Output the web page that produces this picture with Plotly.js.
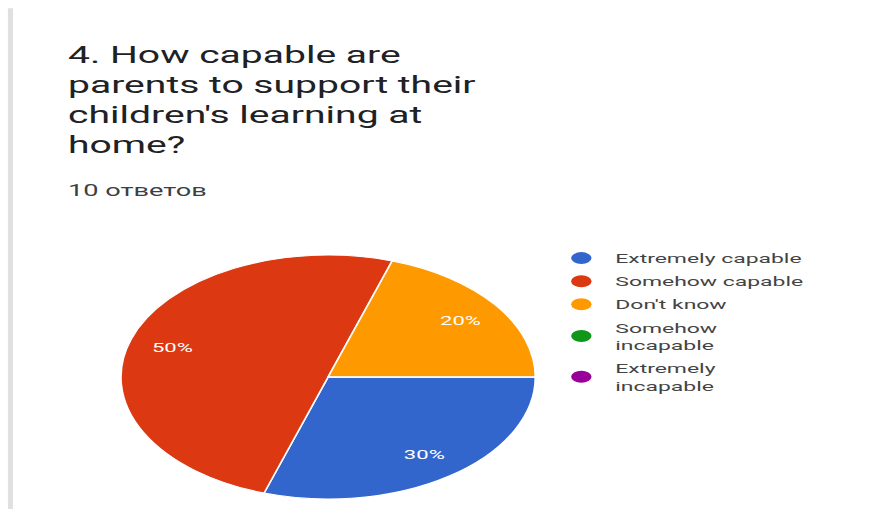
<!DOCTYPE html>
<html>
<head>
<meta charset="utf-8">
<script src="https://cdn.plot.ly/plotly-3.0.1.min.js"></script>
<style>
html, body { margin: 0; padding: 0; background: #ffffff; overflow: hidden; }
#chart { width: 514px; height: 509px; transform: scaleX(1.6984); transform-origin: 0 0; }
</style>
</head>
<body>
<div id="chart"></div>
<script>
// ---- data ----
const titleText = "4. How capable are<br>parents to support their<br>children's learning at<br>home?";
const subtitleText = "10 ответов";
const labels = ["Extremely capable", "Somehow capable", "Don't know", "Somehow incapable", "Extremely incapable"];
const legendLabels = ["Extremely capable", "Somehow capable", "Don't know", "Somehow<br>incapable", "Extremely<br>incapable"];
const values = [3, 5, 2, 0, 0];
const colors = ["#3366cc", "#dc3912", "#ff9900", "#109618", "#990099"];

const FONT = "Roboto, 'Noto Sans', Arial, sans-serif";
const pieDomain = { x: [0.1383, 0.6134], y: [0.0196, 0.499] };

// filled slices (no text)
const pie = {
  type: "pie",
  labels: labels,
  values: values,
  sort: false,
  direction: "clockwise",
  rotation: 90,
  marker: { colors: colors, line: { color: "#ffffff", width: 1 } },
  textinfo: "none",
  showlegend: false,
  domain: pieDomain,
  hoverinfo: "label+percent"
};

// same data, transparent ring carrying the percentage labels further out
const pieLabels = {
  type: "pie",
  labels: labels,
  values: values,
  sort: false,
  direction: "clockwise",
  rotation: 90,
  hole: 0.58,
  marker: { colors: colors.map(() => "rgba(0,0,0,0)"), line: { width: 0 } },
  textinfo: "percent",
  textposition: "inside",
  insidetextorientation: "horizontal",
  insidetextfont: { family: FONT, size: 13, color: "#ffffff" },
  showlegend: false,
  domain: pieDomain,
  hoverinfo: "skip"
};

const legendTraces = legendLabels.map((name, i) => ({
  type: "scatter",
  mode: "markers",
  x: [null],
  y: [null],
  name: name,
  legendgroup: "g" + i,
  marker: { color: colors[i], size: 12, symbol: "circle" },
  showlegend: true,
  hoverinfo: "skip"
}));

const layout = {
  width: 514,
  height: 509,
  margin: { l: 0, r: 0, t: 0, b: 0 },
  paper_bgcolor: "#ffffff",
  plot_bgcolor: "#ffffff",
  xaxis: { visible: false },
  yaxis: { visible: false },
  title: {
    text: titleText,
    x: 0.078,
    xanchor: "left",
    xref: "paper",
    y: 0.876,
    yanchor: "top",
    yref: "container",
    font: { family: FONT, size: 23, color: "#202124" }
  },
  showlegend: true,
  legend: {
    x: 0.627,
    y: 0.5229,
    xanchor: "left",
    yanchor: "top",
    traceorder: "grouped",
    tracegroupgap: 2.5,
    bgcolor: "rgba(0,0,0,0)",
    font: { family: FONT, size: 13.5, color: "#444444" }
  },
  annotations: [{
    text: subtitleText,
    xref: "paper",
    yref: "paper",
    x: 0.074,
    y: 0.6267,
    xanchor: "left",
    yanchor: "middle",
    showarrow: false,
    font: { family: FONT, size: 16, color: "#3c4043" }
  }],
  shapes: [{
    type: "line",
    xref: "paper",
    yref: "paper",
    x0: 0.012, x1: 0.012,
    y0: 0, y1: 0.984,
    line: { color: "#e0e0e0", width: 3 }
  }]
};

Plotly.newPlot("chart", [pie, pieLabels].concat(legendTraces), layout, { displayModeBar: false, staticPlot: true });
</script>
</body>
</html>
